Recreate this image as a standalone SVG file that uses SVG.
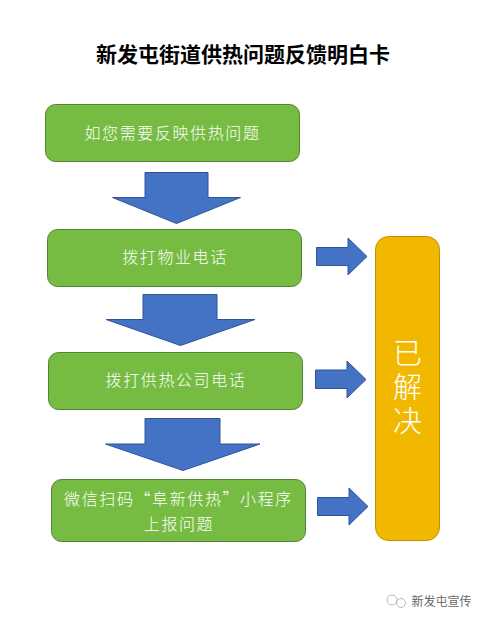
<svg xmlns="http://www.w3.org/2000/svg" width="487" height="623" viewBox="0 0 487 623">
<style>
text{font-family:"Noto Sans CJK SC","Noto Sans",sans-serif;text-anchor:middle}
.t{font-size:21px;font-weight:700;fill:#000}
.b{font-size:16px;font-weight:300;fill:#fff;letter-spacing:1.6px}
.g{fill:#76bc43;stroke:#548235;stroke-width:1}
.y{fill:#f2b800;stroke:#bf9000;stroke-width:1}
.a{fill:#4472c4;stroke:#2f5597;stroke-width:1}
.s{font-size:29px;font-weight:300;fill:#fff;writing-mode:vertical-rl;letter-spacing:5px}
.w{font-size:12px;fill:#666}
</style>
<rect width="487" height="623" fill="#fff"/>
<text class="t" x="243" y="62">新发屯街道供热问题反馈明白卡</text>
<g id="connectors">
<path class="a" d="M145 172.500H208V197.500H240.500L176.500 223.500L112.500 197.500H145Z"/>
<path class="a" d="M143 294.500H217V319.500H255L180.500 345.500L106 319.500H143Z"/>
<path class="a" d="M145 418.500H220V444H260L183 470.500L105.500 444H145Z"/>
<path class="a" d="M316.500 247.500H348V238L367 256.500L348 275V265.500H316.500Z"/>
<path class="a" d="M315.500 370H347V361L366 379.500L347 398V388.500H315.500Z"/>
<path class="a" d="M317.500 497.500H349V488L368 506.500L349 525V515.500H317.500Z"/>
</g>
<g id="node-1"><rect class="g" x="45.500" y="104.500" width="254" height="57" rx="10"/><text class="b" x="172.500" y="138.500">如您需要反映供热问题</text></g>
<g id="node-2"><rect class="g" x="47.500" y="229.500" width="254" height="57" rx="10"/><text class="b" x="175" y="263">拨打物业电话</text></g>
<g id="node-3"><rect class="g" x="48.500" y="352.500" width="254" height="57" rx="10"/><text class="b" x="176" y="386">拨打供热公司电话</text></g>
<g id="node-4"><rect class="g" x="51.500" y="479.500" width="254" height="62" rx="10"/><text class="b" x="178.500" y="505">微信扫码“阜新供热”小程序</text><text class="b" x="179" y="530">上报问题</text></g>
<g id="node-5"><rect class="y" x="375.500" y="236.500" width="64" height="304" rx="13"/><text class="s" x="407.500" y="389">已解决</text></g>
<g id="watermark"><circle cx="392" cy="600" r="5" fill="none" stroke="#bbb"/><circle cx="401" cy="603" r="4.500" fill="none" stroke="#bbb"/><text class="w" x="441.500" y="606">新发屯宣传</text></g>
</svg>
